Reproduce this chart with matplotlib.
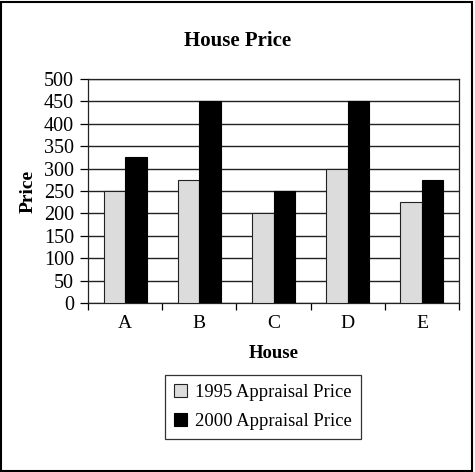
import numpy as np
import matplotlib
matplotlib.use("Agg")
import matplotlib.pyplot as plt
from matplotlib.patches import Rectangle

# data
houses = ["A", "B", "C", "D", "E"]
price_1995 = [250, 275, 200, 300, 225]
price_2000 = [325, 450, 250, 450, 275]
y_ticks = [0, 50, 100, 150, 200, 250, 300, 350, 400, 450, 500]

plt.rcParams['font.family'] = ['Liberation Serif', 'DejaVu Serif']

fig = plt.figure(figsize=(4.75, 4.72), dpi=100)
ax = fig.add_axes([88/475, 1 - 303/472, 371/475, 224/472])

x = np.arange(len(houses))
w = 0.29
ax.bar(x - w/2, price_1995, width=w, color='#dcdcdc', edgecolor='#222222',
       linewidth=0.8, label='1995 Appraisal Price', zorder=3)
ax.bar(x + w/2, price_2000, width=w, color='black', edgecolor='black',
       linewidth=0.8, label='2000 Appraisal Price', zorder=3)

ax.set_xlim(-0.5, len(houses) - 0.5)
ax.set_ylim(0, 500)
ax.set_yticks(y_ticks)
ax.yaxis.grid(True, color='#222222', linewidth=1.0, zorder=0)
ax.set_axisbelow(True)

# category ticks on boundaries, labels at centres
ax.set_xticks(np.arange(len(houses) + 1) - 0.5)
ax.set_xticklabels([])
ax.set_xticks(x, minor=True)
ax.set_xticklabels(houses, minor=True)
ax.tick_params(axis='x', which='minor', length=0, labelsize=14, pad=9)
ax.tick_params(axis='x', which='major', length=5, direction='out', width=0.9)
ax.tick_params(axis='y', length=6, direction='out', width=0.9, labelsize=14.5, pad=4)

for s in ax.spines.values():
    s.set_linewidth(0.9)
    s.set_color('#222222')

# title centred on the whole figure
fig.text(0.5, 1 - 46/472, "House Price", fontsize=15, fontweight='bold',
         ha='center', va='baseline')
ax.set_xlabel("House", fontsize=13.5, fontweight='bold', labelpad=9)
ax.set_ylabel("Price", fontsize=14, fontweight='bold', labelpad=5)

leg = fig.legend(loc='center', bbox_to_anchor=(263/475, 1 - 407/472),
                 fontsize=13.4, frameon=True, fancybox=False, edgecolor='black',
                 handlelength=0.7, handleheight=0.7, handletextpad=0.4,
                 borderpad=0.5, labelspacing=0.6)
leg.get_frame().set_linewidth(0.9)

# outer frame
fig.patches.append(Rectangle((0.002, 0.002), 0.992, 0.994, transform=fig.transFigure,
                             fill=False, edgecolor='black', linewidth=1.5))

fig.savefig("out.png", dpi=100)
